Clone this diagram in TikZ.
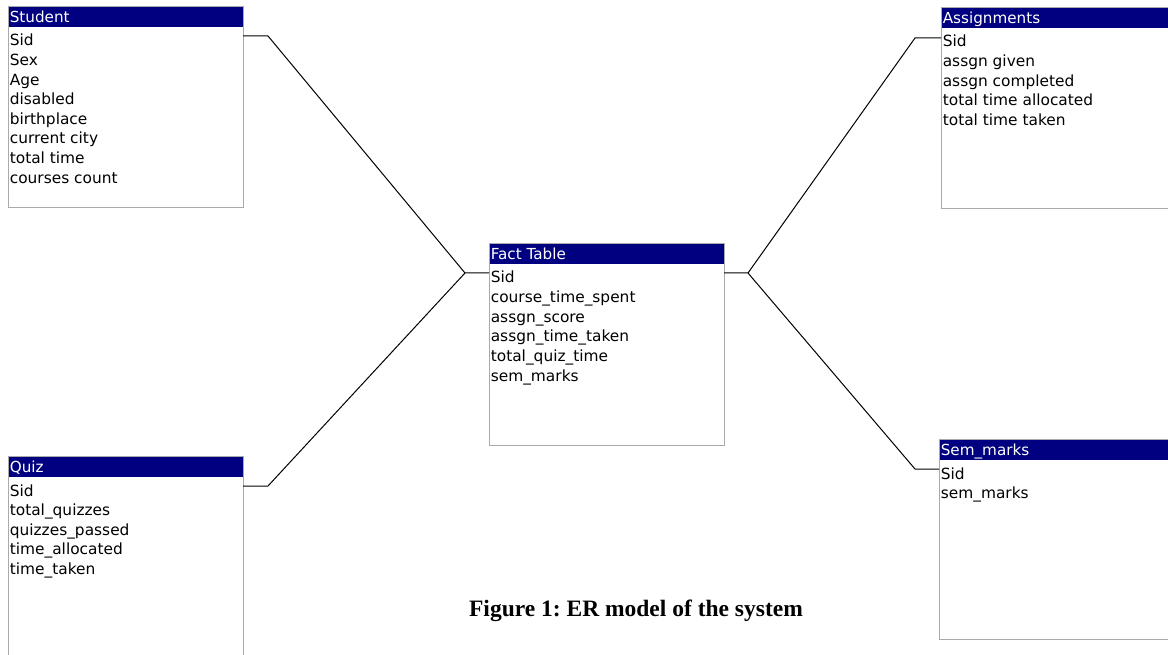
\documentclass[tikz,border=0pt]{standalone}
\usepackage{fontspec}
\setmainfont{Liberation Serif}
\newfontfamily\tblfont{DejaVu Sans}
\frenchspacing
\definecolor{hdrblue}{RGB}{0,0,128}
\definecolor{brd}{RGB}{170,170,170}
\newcommand{\ertbl}[7]{% #1 name, #2 left, #3 top, #4 width, #5 height, #6 title, #7 fields
  \node[tbox, minimum width=#4, minimum height=#5] (#1) at (#2,#3) {};
  \node[hbar, minimum width=#4-1.2, minimum height=20.5] (#1-h) at ([xshift=0.6pt,yshift=-0.6pt]#1.north west) {};
  \node[htext] (#1-t) at ([xshift=1pt,yshift=-1pt]#1-h.west) {#6};
  \foreach \f [count=\i] in {#7} {
    \node[ftext] (#1-\i) at ([xshift=1pt,yshift={-14.5pt-19.6pt*(\i-1)}]#1-h.south west) {\f};
  }
}
\begin{document}
\begin{tikzpicture}[x=1pt,y=-1pt,
  tbox/.style={draw=brd,line width=1.3pt,fill=white,anchor=north west,inner sep=0pt},
  hbar/.style={fill=hdrblue,anchor=north west,inner sep=0pt},
  htext/.style={anchor=west,inner sep=0pt,text height=11pt,text depth=3pt,text=white,font=\tblfont\fontsize{15.2}{17}\selectfont},
  ftext/.style={anchor=west,inner sep=0pt,text height=11pt,text depth=3pt,text=black,font=\tblfont\fontsize{15.4}{17}\selectfont},
  link/.style={draw=black,line width=1pt},
  caption/.style={font=\bfseries\fontsize{23.5}{26}\selectfont,inner sep=0pt}]
\useasboundingbox (0,0) rectangle (1168,655);
\clip (0,0) rectangle (1168,655);
\ertbl{st}{8}{6}{235}{201}{Student}{Sid,Sex,Age,disabled,birthplace,current city,total time,courses count}
\ertbl{as}{941}{7}{240}{201}{Assignments}{Sid,assgn given,assgn completed,total time allocated,total time taken}
\ertbl{ft}{489}{243}{235}{202}{Fact Table}{Sid,course\_time\_spent,assgn\_score,assgn\_time\_taken,total\_quiz\_time,sem\_marks}
\ertbl{qz}{8}{456}{235}{220}{Quiz}{Sid,total\_quizzes,quizzes\_passed,time\_allocated,time\_taken}
\ertbl{sm}{939}{439}{240}{200}{Sem\_marks}{Sid,sem\_marks}
% connectors
\coordinate (stA) at (243,36);
\coordinate (stB) at (268,36);
\coordinate (qzA) at (243,486);
\coordinate (qzB) at (268,486);
\coordinate (fL) at (465,273);
\coordinate (fLa) at (489,273);
\coordinate (fR) at (748,273);
\coordinate (fRa) at (724,273);
\coordinate (asA) at (941,38);
\coordinate (asB) at (915,38);
\coordinate (smA) at (939,469);
\coordinate (smB) at (915,469);
\draw[link] (stA) -- (stB) -- (fL) -- (fLa);
\draw[link] (qzA) -- (qzB) -- (fL);
\draw[link] (fRa) -- (fR) -- (asB) -- (asA);
\draw[link] (fR) -- (smB) -- (smA);
\node[caption] (cap) at (636,611) {Figure 1: ER model of the system};
\end{tikzpicture}
\end{document}
